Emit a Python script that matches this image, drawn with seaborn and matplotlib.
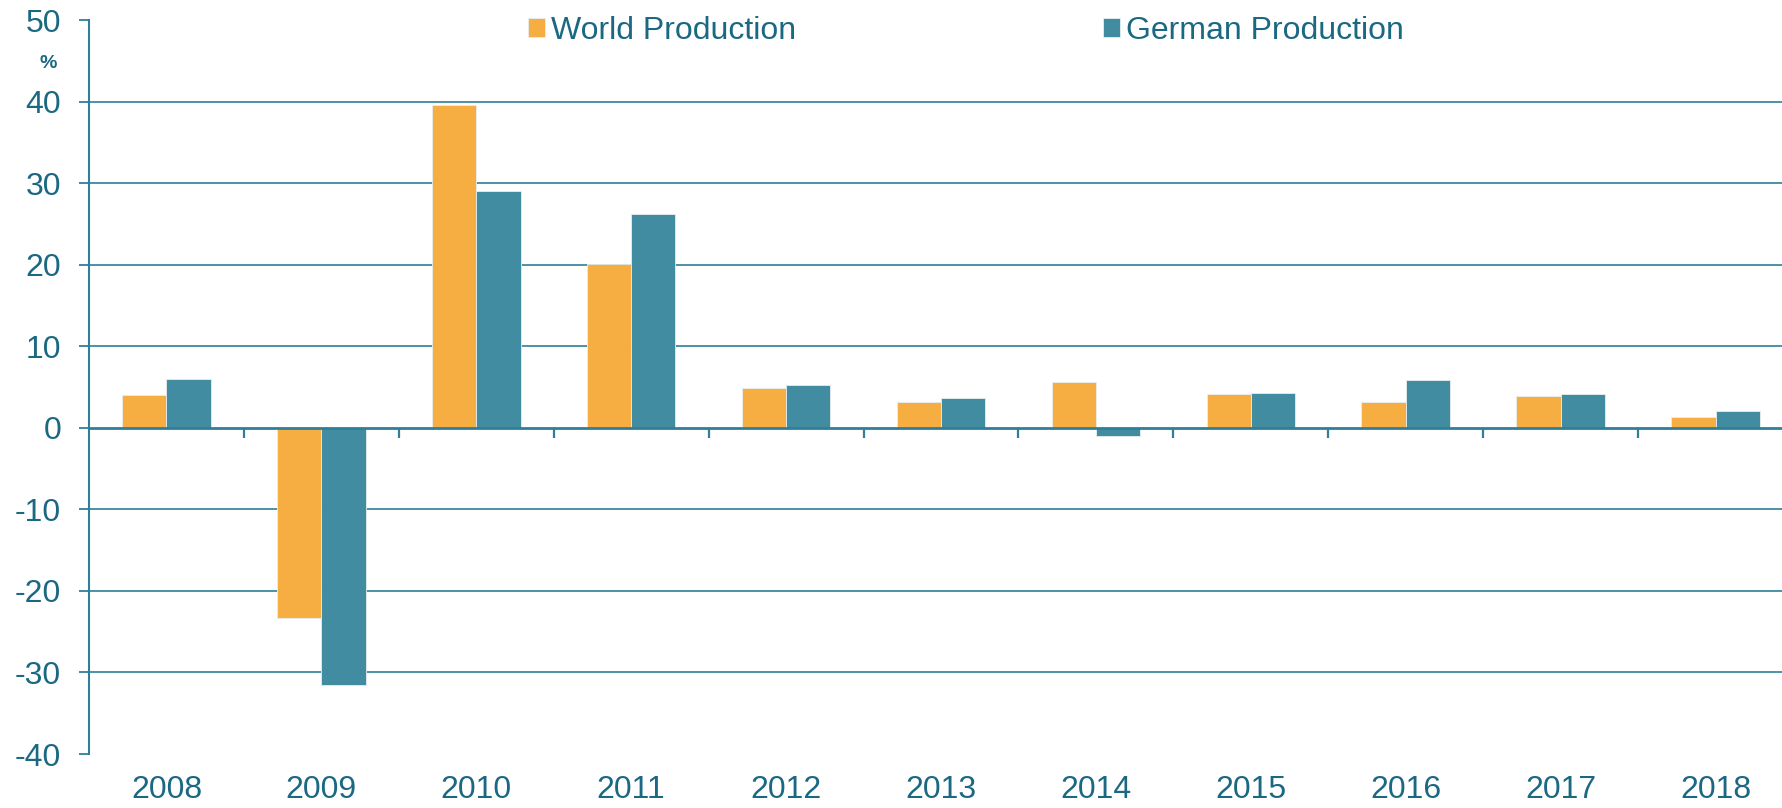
import matplotlib
matplotlib.use("Agg")
import matplotlib.pyplot as plt
import seaborn as sns
import pandas as pd

# data (% change y/y)
years = ["2008", "2009", "2010", "2011", "2012", "2013", "2014", "2015", "2016", "2017", "2018"]
world = [4.0, -23.3, 39.6, 20.1, 4.9, 3.2, 5.6, 4.1, 3.1, 3.9, 1.3]
german = [6.0, -31.5, 29.0, 26.2, 5.3, 3.6, -1.0, 4.3, 5.9, 4.1, 2.0]
series = ["World Production", "German Production"]

orange = "#F6AE42"
teal = "#418CA0"
txt = "#1A6882"
line = "#2F7F98"

df = pd.DataFrame({
    "year": years * 2,
    "value": world + german,
    "series": [series[0]] * len(years) + [series[1]] * len(years),
})

sns.set_style("white")
plt.rcParams["font.family"] = ["Liberation Sans", "DejaVu Sans"]
plt.rcParams["axes.unicode_minus"] = False

fig = plt.figure(figsize=(17.83, 8.08), dpi=100)
ax = fig.add_axes([89 / 1783, 1 - 754 / 808, 1704 / 1783, 734 / 808])

sns.barplot(data=df, x="year", y="value", hue="series", order=years,
            hue_order=series, palette=[orange, teal], width=0.572, gap=0,
            edgecolor="#e8eef0", linewidth=0.6, saturation=1, ax=ax, zorder=3)

ax.set_ylim(-40, 50)
ax.set_xlim(-0.5, len(years) - 0.5)
ax.set_yticks(range(-40, 51, 10))
for v in range(-30, 41, 10):
    if v != 0:
        ax.axhline(v, color=line, lw=1.2, zorder=1)
ax.axhline(0, color=line, lw=2.0, zorder=4)
# separator ticks between year groups on the zero line
for i in range(len(years)):
    ax.plot([i + 0.5, i + 0.5], [0, -1.3], color=line, lw=1.6, zorder=4,
            solid_capstyle="butt")

for s in ["top", "right", "bottom"]:
    ax.spines[s].set_visible(False)
ax.spines["left"].set_color(line)
ax.spines["left"].set_linewidth(1.5)

ax.tick_params(axis="y", length=7, width=1.3, color=line, labelsize=23,
               labelcolor=txt, pad=13, left=True)
ax.tick_params(axis="x", length=0, labelsize=23, labelcolor=txt, pad=15)
ax.set_xlabel("")
ax.set_ylabel("")

fig.text(48 / 1783, 1 - 63 / 808, "%", color=txt, fontsize=14,
         fontweight="bold", ha="center", va="center")

handles, labels = ax.get_legend_handles_labels()
ax.legend(handles, labels, loc="center left", bbox_to_anchor=(528 / 1783, 1 - 31 / 808),
          bbox_transform=fig.transFigure, ncol=2, frameon=False,
          handlelength=0.53, handleheight=0.53, handletextpad=0.19,
          columnspacing=9.6, borderpad=0, borderaxespad=0,
          prop={"size": 23}, labelcolor=txt)

fig.savefig("out.png", dpi=100, facecolor="white")
